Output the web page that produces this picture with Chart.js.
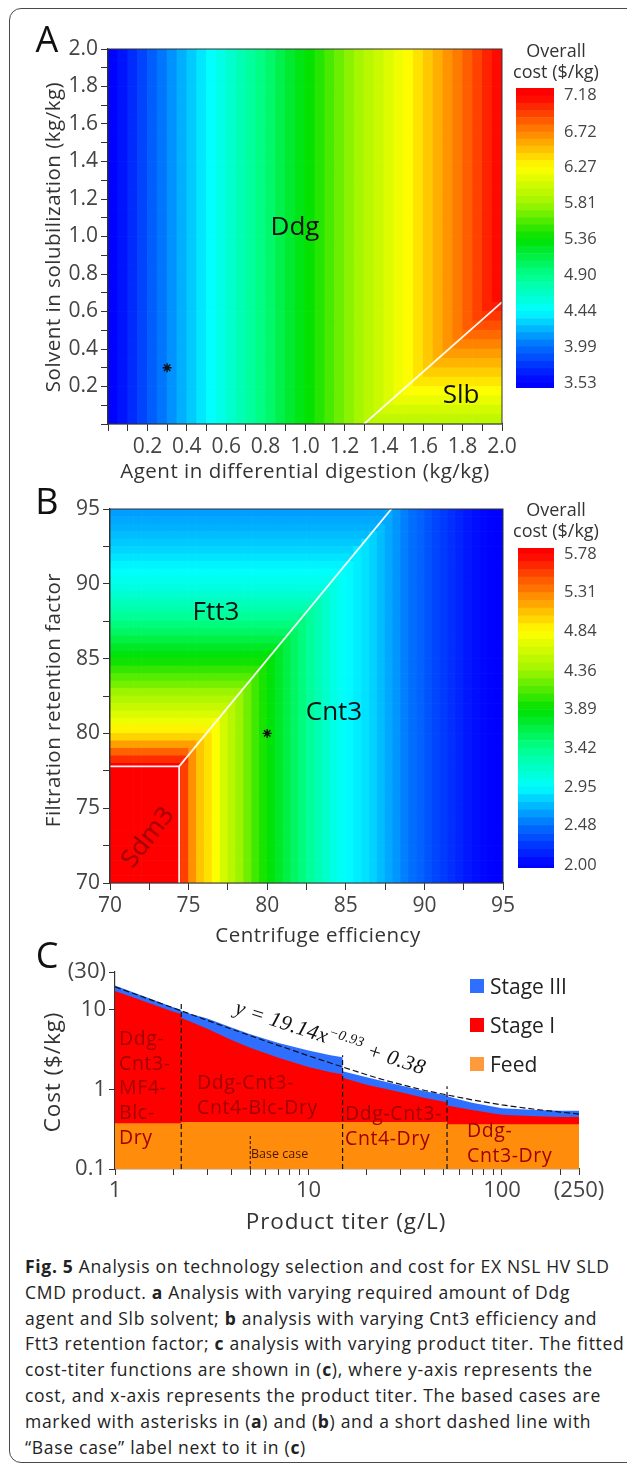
<!DOCTYPE html>
<html>
<head>
<meta charset="utf-8">
<title>Fig. 5</title>
<script src="https://cdn.jsdelivr.net/npm/chart.js@4.4.1/dist/chart.umd.min.js"></script>
<style>
  html, body { margin: 0; padding: 0; background: #fff; }
  body { position: relative; width: 627px; height: 1470px; overflow: hidden; font-family: 'Open Sans', sans-serif; color: #333; }
  canvas { position: absolute; }
  .frame { position: absolute; left: 9px; top: 8px; width: 660px; height: 1455px; border: 1.5px solid #4a4a4a; border-radius: 12px; box-sizing: border-box; }
  .lbl { position: absolute; white-space: nowrap; line-height: 1; transform: translate(-50%, -50%); }
  .block { position: absolute; white-space: nowrap; color: #a00000; font-size: 19.5px; line-height: 24.7px; letter-spacing: 0.6px; }
  .cap { position: absolute; left: 25px; white-space: nowrap; font-size: 17.5px; line-height: 1; color: #222; letter-spacing: 0.7px; transform: translateY(-50%); }
  .cap b { font-weight: 700; }
  .swatch { position: absolute; left: 470px; width: 14px; height: 14px; }
  .leg { position: absolute; left: 490px; font-size: 21px; line-height: 1; color: #222; transform: translateY(-50%); white-space: nowrap; }
</style>
</head>
<body>
<div class="frame"></div>
<canvas id="heatA" width="627" height="480" style="left:0;top:0"></canvas>
<canvas id="barA" width="127" height="340" style="left:500px;top:68px"></canvas>
<canvas id="heatB" width="627" height="460" style="left:0;top:480px"></canvas>
<canvas id="barB" width="127" height="360" style="left:500px;top:528px"></canvas>
<canvas id="titer" width="627" height="300" style="left:0;top:940px"></canvas>

<div class="block" style="left:119px;top:1026px">Ddg-<br>Cnt3-<br>MF4-<br>Blc-<br>Dry</div>
<div class="block" style="left:197px;top:1070px">Ddg-Cnt3-<br>Cnt4-Blc-Dry</div>
<div class="block" style="left:345px;top:1101px">Ddg-Cnt3-<br>Cnt4-Dry</div>
<div class="block" style="left:467px;top:1118px">Ddg-<br>Cnt3-Dry</div>

<div class="swatch" style="top:979px;background:#2f6fff"></div>
<div class="swatch" style="top:1018px;background:#ff0000"></div>
<div class="swatch" style="top:1057px;background:#ff9a3c"></div>
<div class="leg" style="top:986px">Stage III</div>
<div class="leg" style="top:1025px">Stage I</div>
<div class="leg" style="top:1064px">Feed</div>

<script>
// ---------- Panel A: Ddg agent vs Slb solvent ----------
const agentAmount = [0.025, 0.075, 0.125, 0.175, 0.225, 0.275, 0.325, 0.375, 0.425, 0.475,
  0.525, 0.575, 0.625, 0.675, 0.725, 0.775, 0.825, 0.875, 0.925, 0.975,
  1.025, 1.075, 1.125, 1.175, 1.225, 1.275, 1.325, 1.375, 1.425, 1.475,
  1.525, 1.575, 1.625, 1.675, 1.725, 1.775, 1.825, 1.875, 1.925, 1.975];
const solventAmount = [0.025, 0.075, 0.125, 0.175, 0.225, 0.275, 0.325, 0.375, 0.425, 0.475,
  0.525, 0.575, 0.625, 0.675, 0.725, 0.775, 0.825, 0.875, 0.925, 0.975,
  1.025, 1.075, 1.125, 1.175, 1.225, 1.275, 1.325, 1.375, 1.425, 1.475,
  1.525, 1.575, 1.625, 1.675, 1.725, 1.775, 1.825, 1.875, 1.925, 1.975];
const solventStep = 0.05;
// cost when Ddg is selected (varies with agent amount)
const ddgCost = [3.54, 3.61, 3.71, 3.81, 3.92, 4.01, 4.10, 4.19, 4.28, 4.37,
  4.45, 4.54, 4.64, 4.74, 4.83, 4.92, 5.01, 5.11, 5.20, 5.29,
  5.37, 5.46, 5.56, 5.66, 5.75, 5.84, 5.93, 6.02, 6.11, 6.20,
  6.28, 6.37, 6.47, 6.56, 6.66, 6.75, 6.85, 6.95, 7.06, 7.15];
// cost when Slb is selected (varies with solvent amount), only visible rows
const slbCost = [5.96, 6.06, 6.16, 6.26, 6.36, 6.45, 6.54, 6.63, 6.72, 6.81, 6.90, 6.99, 7.08,
  null, null, null, null, null, null, null, null, null, null, null, null, null, null,
  null, null, null, null, null, null, null, null, null, null, null, null, null];
const slbBoundary = [{ x: 1.3, y: 0 }, { x: 2.0, y: 0.65 }];
const baseCaseA = [{ x: 0.3, y: 0.3 }];
const costTicksA = [3.53, 3.99, 4.44, 4.90, 5.36, 5.81, 6.27, 6.72, 7.18];

// ---------- Panel B: Cnt3 efficiency vs Ftt3 retention ----------
const efficiency = [70.25, 70.75, 71.25, 71.75, 72.25, 72.75, 73.25, 73.75, 74.25, 74.75,
  75.25, 75.75, 76.25, 76.75, 77.25, 77.75, 78.25, 78.75, 79.25, 79.75,
  80.25, 80.75, 81.25, 81.75, 82.25, 82.75, 83.25, 83.75, 84.25, 84.75,
  85.25, 85.75, 86.25, 86.75, 87.25, 87.75, 88.25, 88.75, 89.25, 89.75,
  90.25, 90.75, 91.25, 91.75, 92.25, 92.75, 93.25, 93.75, 94.25, 94.75];
const retention = [70.25, 70.75, 71.25, 71.75, 72.25, 72.75, 73.25, 73.75, 74.25, 74.75,
  75.25, 75.75, 76.25, 76.75, 77.25, 77.75, 78.25, 78.75, 79.25, 79.75,
  80.25, 80.75, 81.25, 81.75, 82.25, 82.75, 83.25, 83.75, 84.25, 84.75,
  85.25, 85.75, 86.25, 86.75, 87.25, 87.75, 88.25, 88.75, 89.25, 89.75,
  90.25, 90.75, 91.25, 91.75, 92.25, 92.75, 93.25, 93.75, 94.25, 94.75];
const retentionStep = 0.5;
const cnt3Cost = [null, null, null, null, null, null, null, null, null, 5.55,
  5.25, 5.05, 4.95, 4.82, 4.62, 4.48, 4.35, 4.22, 4.08, 3.96,
  3.86, 3.76, 3.66, 3.56, 3.46, 3.36, 3.26, 3.16, 3.06, 2.98,
  2.93, 2.89, 2.85, 2.80, 2.73, 2.66, 2.60, 2.53, 2.47, 2.42,
  2.36, 2.30, 2.25, 2.20, 2.15, 2.10, 2.06, 2.03, 2.01, 2.00];
const ftt3Cost = [null, null, null, null, null, null, null, null, null, null,
  null, null, null, null, null, null, 5.62, 5.42, 5.20, 5.00,
  4.88, 4.76, 4.65, 4.55, 4.45, 4.35, 4.24, 4.14, 4.04, 3.94,
  3.85, 3.76, 3.66, 3.56, 3.47, 3.38, 3.30, 3.22, 3.14, 3.07,
  3.01, 2.96, 2.91, 2.86, 2.81, 2.77, 2.73, 2.69, 2.66, 2.63];
const sdm3Cost = 5.78;
const sdm3Corner = { x: 74.4, y: 77.8 };
const sdm3Box = [{ x: 70, y: 77.8 }, sdm3Corner, { x: 74.4, y: 70 }];
const ftt3Boundary = [sdm3Corner, { x: 87.9, y: 95 }];
const baseCaseB = [{ x: 80, y: 80 }];
const costTicksB = [2.00, 2.48, 2.95, 3.42, 3.89, 4.36, 4.84, 5.31, 5.78];

// ---------- Panel C: cost vs product titer ----------
const titerPoints = [1, 1.3, 1.6, 2, 2.2, 2.2, 3, 4, 5, 7, 10, 13, 15, 15, 20, 30, 40, 52, 52, 70, 100, 150, 200, 250];
const totalCost = [20.3, 16.0, 13.2, 10.8, 10.0, 9.6, 7.8, 6.0, 4.95, 3.85, 3.1, 2.7, 2.55,
  1.7, 1.42, 1.12, 0.95, 0.84, 0.82, 0.68, 0.58, 0.55, 0.54, 0.54];
const stageICost = [17.3, 13.8, 11.5, 9.5, 8.9, 8.0, 5.8, 4.2, 3.35, 2.5, 1.92, 1.65, 1.55,
  1.4, 1.15, 0.92, 0.78, 0.69, 0.63, 0.55, 0.48, 0.46, 0.45, 0.45];
const feedTiter = [1, 2.2, 2.2, 52, 52, 250];
const feedCost = [0.375, 0.375, 0.39, 0.39, 0.365, 0.365];
const fitTiter = [1, 1.3, 1.6, 2, 2.5, 3, 4, 5, 6, 8, 10, 13, 15, 20, 25, 30, 40, 50, 70, 100, 150, 200, 250];
const fitCost = [19.5, 15.5, 12.9, 10.6, 8.7, 7.4, 5.75, 4.75, 4.05, 3.2, 2.65, 2.15, 1.92,
  1.53, 1.3, 1.16, 0.97, 0.87, 0.74, 0.64, 0.56, 0.52, 0.49];
const switchTiter = [2.2, 15, 52];
const switchTop = [12.5, 2.7, 1.1];
const baseCaseTiter = 5;
const baseCaseTop = 0.26;
const titerTicks = [1, 2, 3, 4, 5, 6, 7, 8, 9, 10, 20, 30, 40, 50, 60, 70, 80, 90, 100, 200, 250];
const titerTickLabels = ['1', '', '', '', '', '', '', '', '', '10', '', '', '', '', '', '', '', '', '100', '', '(250)'];
const costTicksC = [0.1, 1, 10, 30];
const costTickLabelsC = ['0.1', '1', '10', '(30)'];

// ---------- helpers ----------
Chart.defaults.font.family = "'Open Sans', sans-serif";
Chart.defaults.color = '#444';
Chart.defaults.animation = false;
Chart.defaults.events = [];
Chart.defaults.plugins.legend.display = false;
Chart.defaults.plugins.tooltip.enabled = false;

const JET = [[0, 0, 0, 255], [0.125, 0, 110, 255], [0.25, 0, 255, 255], [0.375, 0, 255, 140],
  [0.5, 0, 225, 0], [0.625, 160, 245, 0], [0.75, 255, 255, 0], [0.875, 255, 130, 0], [1, 255, 0, 0]];

function jet(v, lo, hi) {
  const t = Math.min(1, Math.max(0, (v - lo) / (hi - lo)));
  for (let k = 1; k < JET.length; k++) {
    if (t <= JET[k][0]) {
      const a = JET[k - 1], b = JET[k], f = (t - a[0]) / (b[0] - a[0]);
      const c = i => Math.round(a[i] + (b[i] - a[i]) * f);
      return `rgb(${c(1)},${c(2)},${c(3)})`;
    }
  }
  return 'rgb(255,0,0)';
}

function lineY(pts, x) {
  for (let k = 0; k < pts.length - 1; k++) {
    const a = pts[k], b = pts[k + 1];
    if (x >= a.x && x <= b.x) return a.y + (b.y - a.y) * (x - a.x) / (b.x - a.x);
  }
  return null;
}

// one floating-bar dataset per row of cells
function heatSets(xs, ys, step, costAt, lo, hi) {
  return ys.map((yc, j) => ({
    type: 'bar',
    data: xs.map(xc => ({ x: xc, y: [yc - step / 2, yc + step / 2] })),
    backgroundColor: xs.map((xc, i) => jet(costAt(i, j), lo, hi)),
    borderWidth: 0,
    barPercentage: 1,
    categoryPercentage: 1,
    grouped: false,
    order: 10
  }));
}

function whiteLine(pts) {
  return { type: 'line', data: pts, borderColor: 'rgba(255,255,255,0.95)', borderWidth: 1.8,
    pointRadius: 0, fill: false, tension: 0, order: 1 };
}

function star(pts) {
  return { type: 'scatter', data: pts, pointStyle: 'star', pointRadius: 4.5,
    borderColor: '#111', backgroundColor: '#111', borderWidth: 1.4, order: 0 };
}

const framePlugin = {
  id: 'frame',
  afterDatasetsDraw(chart) {
    const { ctx, chartArea: a } = chart;
    ctx.save();
    ctx.strokeStyle = '#333';
    ctx.lineWidth = 1;
    ctx.strokeRect(a.left, a.top, a.right - a.left, a.bottom - a.top);
    ctx.restore();
  }
};

function axisStyle(extra) {
  return Object.assign({
    z: 1,
    grid: { drawOnChartArea: false, tickLength: 7, color: '#333', offset: false },
    border: { color: '#333', width: 1.2 }
  }, extra);
}

function heatOptions(min, max, step, labelFn, pad) {
  const ticks = { stepSize: step, autoSkip: false, maxRotation: 0, callback: labelFn, font: { size: 21 }, color: '#444', padding: 3 };
  return {
    responsive: false,
    layout: { padding: pad },
    scales: {
      x: axisStyle({ type: 'linear', min: min, max: max, offset: false, ticks: ticks, afterFit: s => { s.height = 40; } }),
      y: axisStyle({ type: 'linear', min: min, max: max, ticks: ticks, afterFit: s => { s.width = 60; } })
    }
  };
}

function colorbarSets(ticks, min, max) {
  const lo = ticks[0], hi = ticks[ticks.length - 1];
  const sets = [{ data: [[min, lo]], backgroundColor: jet(lo, lo, hi) }];
  for (let k = 0; k < ticks.length - 1; k++) {
    const step = (ticks[k + 1] - ticks[k]) / 5;
    for (let s = 0; s < 5; s++) {
      const a = ticks[k] + s * step;
      sets.push({ data: [[a, a + step]], backgroundColor: jet(a + step / 2, lo, hi) });
    }
  }
  sets.push({ data: [[hi, max]], backgroundColor: jet(hi, lo, hi) });
  return sets.map(s => Object.assign(s, { borderWidth: 0, barPercentage: 1, categoryPercentage: 1, grouped: false }));
}

// the tick labels add about 20px above and below the bar, the canvases allow for it;
// the axis is given a fixed width so its labels are not clipped
function colorbar(id, ticks, min, max, pad) {
  new Chart(document.getElementById(id), {
    type: 'bar',
    data: { labels: ['cost'], datasets: colorbarSets(ticks, min, max) },
    options: {
      responsive: false,
      layout: { padding: pad },
      scales: {
        x: { display: false },
        y: {
          position: 'right', min: min, max: max,
          afterBuildTicks: s => { s.ticks = ticks.map(v => ({ value: v })); },
          ticks: { callback: v => v.toFixed(2), font: { size: 16.5 }, color: '#444', padding: 10 },
          grid: { display: false, drawTicks: false },
          border: { display: false },
          afterFit: s => { s.width = 60; }
        }
      }
    }
  });
}

// ---------- Panel A ----------
function costA(i, j) {
  const ly = lineY(slbBoundary, agentAmount[i]);
  return (ly !== null && solventAmount[j] < ly) ? slbCost[j] : ddgCost[i];
}

new Chart(document.getElementById('heatA'), {
  type: 'bar',
  data: {
    datasets: heatSets(agentAmount, solventAmount, solventStep, costA, costTicksA[0], costTicksA[8])
      .concat([whiteLine(slbBoundary), star(baseCaseA)])
  },
  options: heatOptions(0, 2, 0.1, v => (v > 0.01 && Math.round(v * 10) % 2 === 0) ? v.toFixed(1) : '',
    { left: 48, right: 125, top: 49, bottom: 16 }),
  plugins: [framePlugin]
});
colorbar('barA', costTicksA, 3.466, 7.28, { left: 16, right: 13, top: 0, bottom: 0 });

// ---------- Panel B ----------
function costB(i, j) {
  const x = efficiency[i], y = retention[j];
  if (x < sdm3Corner.x && y < sdm3Corner.y) return sdm3Cost;
  const ly = lineY(ftt3Boundary, x);
  if (x < sdm3Corner.x || (ly !== null && y > ly)) return ftt3Cost[j];
  return cnt3Cost[i];
}

new Chart(document.getElementById('heatB'), {
  type: 'bar',
  data: {
    datasets: heatSets(efficiency, retention, retentionStep, costB, costTicksB[0], costTicksB[8])
      .concat([whiteLine(sdm3Box), whiteLine(ftt3Boundary), star(baseCaseB)])
  },
  options: heatOptions(70, 95, 2.5, v => (Math.round(v * 10) % 50 === 0) ? String(v) : '',
    { left: 50, right: 124, top: 29, bottom: 17 }),
  plugins: [framePlugin]
});
colorbar('barB', costTicksB, 1.964, 5.853, { left: 18, right: 13, top: 0, bottom: 0 });

// ---------- Panel C ----------
const zip = (xs, ys) => xs.map((x, i) => ({ x: x, y: ys[i] }));
const dashed = { type: 'line', borderColor: '#111', borderWidth: 1.2, borderDash: [5, 3], pointRadius: 0, fill: false, tension: 0, order: 0 };

const titerSets = [
  { data: zip(feedTiter, feedCost), backgroundColor: '#ff8c0a', fill: 'start', order: 3 },
  { data: zip(titerPoints, stageICost), backgroundColor: '#ff0000', fill: 'start', order: 4 },
  { data: zip(titerPoints, totalCost), backgroundColor: '#2f6fff', fill: 'start', order: 5 }
].map(d => Object.assign({ borderWidth: 0, pointRadius: 0, tension: 0 }, d));

titerSets.push(Object.assign({}, dashed, { data: zip(fitTiter, fitCost), borderDash: [6, 3] }));
switchTiter.forEach((t, i) => {
  titerSets.push(Object.assign({}, dashed, { data: [{ x: t, y: costTicksC[0] }, { x: t, y: switchTop[i] }] }));
});
titerSets.push(Object.assign({}, dashed, { borderWidth: 1, borderDash: [3, 2],
  data: [{ x: baseCaseTiter, y: costTicksC[0] }, { x: baseCaseTiter, y: baseCaseTop }] }));

new Chart(document.getElementById('titer'), {
  type: 'line',
  data: { datasets: titerSets },
  options: {
    responsive: false,
    layout: { padding: { left: 55, right: 48, top: 32, bottom: 31 } },
    scales: {
      x: axisStyle({
        type: 'logarithmic', min: 1, max: 250,
        afterBuildTicks: s => { s.ticks = titerTicks.map(v => ({ value: v })); },
        ticks: { autoSkip: false, maxRotation: 0, callback: (v, i) => titerTickLabels[i], font: { size: 22 }, color: '#444', padding: 3 },
        grid: { drawOnChartArea: false, tickLength: 6, color: '#333' },
        afterFit: s => { s.height = 40; }
      }),
      y: axisStyle({
        type: 'logarithmic', min: 0.1, max: 30,
        afterBuildTicks: s => { s.ticks = costTicksC.map(v => ({ value: v })); },
        ticks: { autoSkip: false, callback: (v, i) => costTickLabelsC[i], font: { size: 22 }, color: '#444', padding: 3 },
        grid: { drawOnChartArea: false, tickLength: 6, color: '#333' },
        afterFit: s => { s.width = 60; }
      })
    }
  }
});

// ---------- text ----------
function put(html, x, y, style) {
  const d = document.createElement('div');
  d.className = 'lbl';
  d.innerHTML = html;
  d.style.left = x + 'px';
  d.style.top = y + 'px';
  Object.assign(d.style, style || {});
  document.body.appendChild(d);
  return d;
}
const rot = 'translate(-50%,-50%) rotate(-90deg)';
const titleAB = { fontSize: '20.5px', letterSpacing: '0.5px' };
const titleC = { fontSize: '22.5px', letterSpacing: '0.9px' };

put('A', 47, 39, { fontSize: '36px', color: '#111' });
put('B', 47, 501, { fontSize: '36px', color: '#111' });
put('C', 47, 955, { fontSize: '36px', color: '#111' });

put('Overall', 556, 50, { fontSize: '18px' });
put('cost ($/kg)', 556, 71, { fontSize: '18px' });
put('Overall', 556, 509, { fontSize: '18px' });
put('cost ($/kg)', 556, 530, { fontSize: '18px' });

put('Agent in differential digestion (kg/kg)', 305, 470, titleAB);
put('Solvent in solubilization (kg/kg)', 52, 237, Object.assign({ transform: rot }, titleAB));
put('Centrifuge efficiency', 318, 934, titleAB);
put('Filtration retention factor', 52, 700, Object.assign({ transform: rot }, titleAB));
put('Product titer (g/L)', 346, 1221, titleC);
put('Cost ($/kg)', 52, 1072, Object.assign({ transform: rot }, titleC));

put('Ddg', 295, 225, { fontSize: '26px', color: '#111' });
put('Slb', 461, 393, { fontSize: '26px', color: '#111' });
put('Ftt3', 216, 610, { fontSize: '26px', color: '#111' });
put('Cnt3', 334, 710, { fontSize: '26px', color: '#111' });
put('Sdm3', 146, 836, { fontSize: '26px', color: '#9a0000', transform: 'translate(-50%,-50%) rotate(-52deg)' });

put('Base case', 251, 1154, { fontSize: '12.5px', color: '#4a1500', transform: 'translateY(-50%)' });
put('<i>y</i> = 19.14<i>x</i><sup style="font-size:0.66em;vertical-align:0.55em">\u22120.93</sup> + 0.38', 236, 1006,
  { fontSize: '21.5px', fontFamily: "'Liberation Serif', serif", fontStyle: 'italic', color: '#111',
    transformOrigin: '0 50%', transform: 'translateY(-50%) rotate(18deg)', letterSpacing: '0.4px' });

const captionLines = [
  '<b>Fig. 5</b> Analysis on technology selection and cost for EX NSL HV SLD',
  'CMD product. <b>a</b> Analysis with varying required amount of Ddg',
  'agent and Slb solvent; <b>b</b> analysis with varying Cnt3 efficiency and',
  'Ftt3 retention factor; <b>c</b> analysis with varying product titer. The fitted',
  'cost-titer functions are shown in (<b>c</b>), where y-axis represents the',
  'cost, and x-axis represents the product titer. The based cases are',
  'marked with asterisks in (<b>a</b>) and (<b>b</b>) and a short dashed line with',
  '\u201cBase case\u201d label next to it in (<b>c</b>)'
];
captionLines.forEach((line, k) => {
  const d = document.createElement('div');
  d.className = 'cap';
  d.innerHTML = line;
  d.style.top = (1267 + k * 25.8) + 'px';
  document.body.appendChild(d);
});
</script>
</body>
</html>
